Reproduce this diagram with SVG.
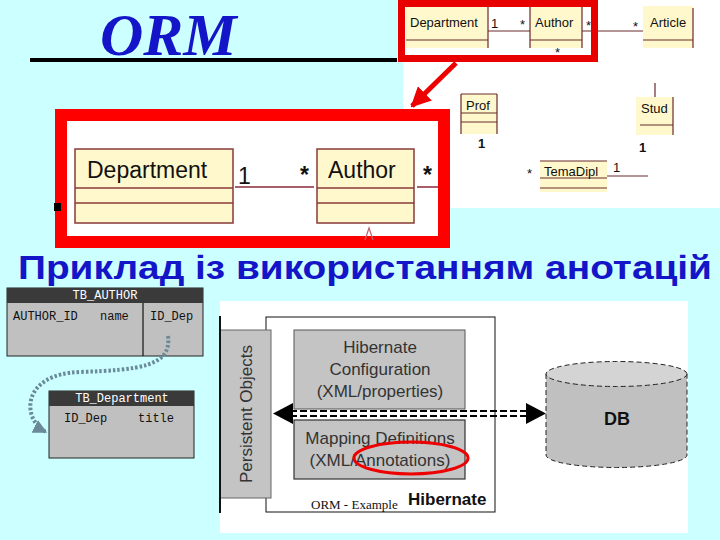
<svg xmlns="http://www.w3.org/2000/svg" width="720" height="540" viewBox="0 0 720 540">
<defs>
<style>
.uml{fill:#fff8cc;stroke:none}
.ul{stroke:#6a2a2a;stroke-width:1.2;fill:none}
.ut{font-family:"Liberation Sans",Arial,sans-serif;font-size:13px;fill:#111}
.ub{font-family:"Liberation Sans",Arial,sans-serif;font-size:23px;fill:#111}
.mono{font-family:"Liberation Mono","Courier New",monospace;font-size:12px;fill:#111}
.monoW{font-family:"Liberation Mono","Courier New",monospace;font-size:12px;fill:#fff}
.hb{font-family:"Liberation Sans",Arial,sans-serif;font-size:17px;fill:#333;text-anchor:middle}
</style>
<marker id="ah" viewBox="0 0 10 10" refX="9" refY="5" markerWidth="4" markerHeight="4" orient="auto"><path d="M0,0L10,5L0,10z" fill="#e00"/></marker>
<marker id="gh" viewBox="0 0 10 10" refX="9" refY="5" markerWidth="3.5" markerHeight="3.5" orient="auto"><path d="M0,0L10,5L0,10z" fill="#6a8a9a"/></marker>
</defs>
<rect width="720" height="540" fill="#ccffff"/>

<g id="title">
<text x="100" y="55" font-family="'Liberation Serif','Times New Roman',serif" font-size="60" font-weight="bold" font-style="italic" fill="#1414c8">ORM</text>
<rect x="30" y="58" width="367" height="4" fill="#000"/>
</g>

<g id="uml-small">
<rect x="403" y="0" width="317" height="208" fill="#fff"/>
<rect x="406" y="6" width="82" height="42" class="uml"/>
<path d="M406,40H488M488,6V48" class="ul"/>
<text x="410" y="27" class="ut">Department</text>
<text x="491" y="28" class="ut" font-size="11">1</text>
<path d="M488,31H530" class="ul"/>
<text x="520" y="29" class="ut">*</text>
<rect x="530" y="6" width="52" height="42" class="uml"/>
<path d="M530,6V48M582,6V48M530,40H582" class="ul"/>
<text x="535" y="27" class="ut">Author</text>
<text x="586" y="30" class="ut">*</text>
<path d="M582,31H643" class="ul"/>
<text x="633" y="31" class="ut">*</text>
<text x="555" y="57" class="ut" font-size="9">*</text>
<rect x="643" y="6" width="50" height="42" class="uml"/>
<path d="M643,40H693M693,8V48" class="ul"/>
<text x="650" y="27" class="ut">Article</text>
<rect x="461" y="94" width="36" height="40" class="uml"/>
<path d="M461,94H497M461,94V134M497,94V134M461,113H497M461,122H497" class="ul"/>
<text x="466" y="110" class="ut">Prof</text>
<text x="478" y="148" class="ut" font-weight="bold" font-size="11">1</text>
<path d="M655,83V97" class="ul"/>
<rect x="636" y="97" width="37" height="38" class="uml"/>
<path d="M640,125H673M673,97V135" class="ul"/>
<text x="641" y="113" class="ut">Stud</text>
<text x="639" y="152" class="ut" font-weight="bold" font-size="11">1</text>
<rect x="540" y="161" width="67" height="31" class="uml"/>
<path d="M540,161H607M540,178H607M540,188H607" class="ul"/>
<text x="544" y="176" class="ut">TemaDipl</text>
<text x="527" y="178" class="ut" font-size="10">*</text>
<text x="613" y="172" class="ut" font-size="11">1</text>
<path d="M607,176H648" class="ul"/>
<rect x="401.5" y="3.5" width="193" height="55" fill="none" stroke="#e80000" stroke-width="7"/>
</g>

<g id="uml-big">
<rect x="61" y="115" width="383" height="127" fill="#fff" stroke="#f00" stroke-width="12"/>
<rect x="75" y="149" width="158" height="74" fill="#fff8cc" stroke="#8a3a3a" stroke-width="1.5"/>
<path d="M75,188H233M75,203H233" stroke="#8a3a3a" stroke-width="1.5"/>
<text x="87" y="178" class="ub">Department</text>
<text x="238" y="184" class="ub" font-size="20">1</text>
<path d="M235,187H314" stroke="#8a2a3a" stroke-width="1.5"/>
<text x="300" y="183" class="ub" font-size="20" font-weight="bold" fill="#223">*</text>
<rect x="317" y="149" width="97" height="74" fill="#fff8cc" stroke="#8a3a3a" stroke-width="1.5"/>
<path d="M317,188H414M317,203H414" stroke="#8a3a3a" stroke-width="1.5"/>
<text x="328" y="178" class="ub">Author</text>
<text x="423" y="183" class="ub" font-size="20" font-weight="bold" fill="#223">*</text>
<path d="M417,187H438" stroke="#8a2a3a" stroke-width="1.5"/>
<path d="M365,240L369,228L373,240" stroke="#c06070" stroke-width="1.2" fill="none"/>
<rect x="54" y="203" width="7" height="8" fill="#000"/>
</g>

<g id="subtitle">
<text x="18" y="279" font-family="'Liberation Sans',Arial,sans-serif" font-size="34" font-weight="bold" fill="#1414c8" textLength="694" lengthAdjust="spacingAndGlyphs">Приклад із використанням анотацій</text>
</g>

<g id="tb-author">
<rect x="7" y="288" width="196" height="68" fill="#c0c0c0" stroke="#222" stroke-width="1"/>
<rect x="7" y="288" width="196" height="15" fill="#3a3a3a"/>
<text x="105" y="299" class="monoW" text-anchor="middle" font-size="11">TB_AUTHOR</text>
<text x="13" y="320" class="mono">AUTHOR_ID</text>
<text x="100" y="320" class="mono">name</text>
<path d="M143,303V356" stroke="#111" stroke-width="1.2"/>
<text x="150" y="320" class="mono">ID_Dep</text>
</g>

<g id="tb-department">
<rect x="49" y="391" width="145" height="67" fill="#c0c0c0" stroke="#222" stroke-width="1"/>
<rect x="49" y="391" width="145" height="15" fill="#3a3a3a"/>
<text x="122" y="402" class="monoW" text-anchor="middle" font-size="12">TB_Department</text>
<text x="64" y="422" class="mono">ID_Dep</text>
<text x="138" y="422" class="mono">title</text>
</g>

<g id="hibernate">
<rect x="220" y="301" width="468" height="232" fill="#fff"/>
<rect x="266" y="317" width="229" height="195" fill="#fff" stroke="#111" stroke-width="1"/>
<g id="persistent">
<rect x="220" y="330" width="51" height="168" fill="#c4c4c4" stroke="#666" stroke-width="1"/>
<path d="M220,316V513" stroke="#111" stroke-width="2"/>
<text transform="translate(252,414) rotate(-90)" class="hb">Persistent Objects</text>
</g>
<g id="config">
<rect x="294" y="330" width="171" height="79" fill="#c4c4c4" stroke="#555" stroke-width="1"/>
<text x="380" y="353" class="hb">Hibernate</text>
<text x="380" y="375" class="hb">Configuration</text>
<text x="380" y="397" class="hb">(XML/properties)</text>
</g>
<g id="mapping">
<rect x="294" y="420" width="171" height="59" fill="#c4c4c4" stroke="#333" stroke-width="1.2"/>
<text x="380" y="444" class="hb">Mapping Definitions</text>
<text x="380" y="466" class="hb">(XML/Annotations)</text>
<ellipse cx="411" cy="458" rx="57" ry="16" fill="none" stroke="#e00" stroke-width="3"/>
</g>
<text x="311" y="509" font-family="'Liberation Serif','Times New Roman',serif" font-size="13" fill="#111">ORM  - Example</text>
<text x="408" y="505" font-family="'Liberation Sans',Arial,sans-serif" font-size="17" font-weight="bold" fill="#111">Hibernate</text>
</g>

<g id="db">
<path d="M546,374V455A70.5,12.5 0 0 0 687,455V374z" fill="#c0c0c0"/>
<path d="M546,374V455A70.5,12.5 0 0 0 687,455V374" fill="none" stroke="#222" stroke-width="1" stroke-dasharray="5,3"/>
<ellipse cx="616.5" cy="374" rx="70.5" ry="12.5" fill="#d4d4d4" stroke="#222" stroke-width="1" stroke-dasharray="5,3"/>
<text x="617" y="425" font-family="'Liberation Sans',Arial,sans-serif" font-size="18" font-weight="bold" fill="#111" text-anchor="middle">DB</text>
</g>

<g id="connectors">
<path d="M456,63L412,106" stroke="#e00" stroke-width="5" fill="none" marker-end="url(#ah)"/>
<path d="M168,336C172,366 140,370 80,372C20,374 22,420 46,432" stroke="#6a8a9a" stroke-width="4" stroke-dasharray="2.5,2" fill="none" marker-end="url(#gh)"/>
<path d="M290,411H530M290,416H530" stroke="#000" stroke-width="2" stroke-dasharray="7,3" fill="none"/>
<path d="M273,413.5L293,403V424z" fill="#000"/>
<path d="M546,413.5L526,403V424z" fill="#000"/>
</g>
</svg>
